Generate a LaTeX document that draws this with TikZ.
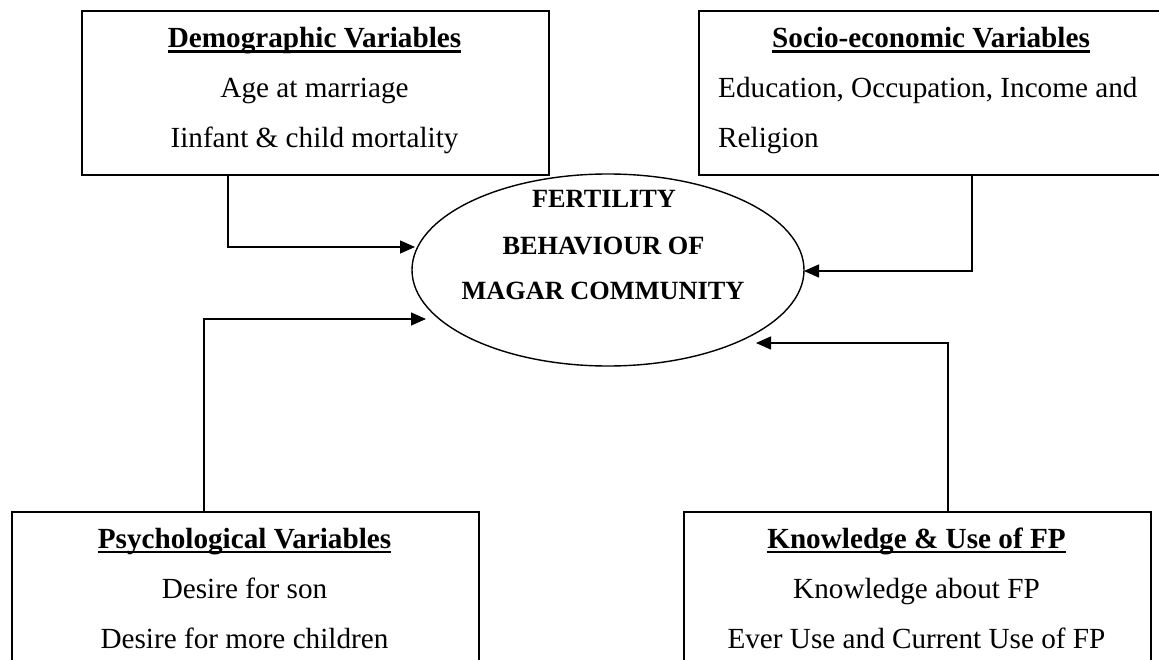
\documentclass[tikz,border=0pt]{standalone}
\usepackage{fontspec}
\setmainfont{Liberation Serif}
\usetikzlibrary{arrows.meta,shapes.geometric}
\newcommand\ulbf[1]{\sbox0{\bfseries #1}\rlap{\rule[-5pt]{\wd0}{2.5pt}}\usebox0}
\begin{document}
\begin{tikzpicture}[x=1pt,y=-1pt,
  box/.style={draw, line width=1.8pt, minimum width=467pt, minimum height=164pt, inner sep=0pt, anchor=north west},
  txt/.style={anchor=base, inner sep=0pt, font=\fontsize{29.2}{35}\selectfont},
  etxt/.style={anchor=base, inner sep=0pt, font=\fontsize{26.3}{32}\selectfont\bfseries},
  conn/.style={line width=1.4pt, -{Triangle[length=15pt,width=13pt]}}]
\useasboundingbox (0,0) rectangle (1159,660);
\clip (0,0) rectangle (1159,660);
\fill[white] (0,0) rectangle (1159,660);
% boxes
\node[box] (d) at (81,10) {};
\node[box] (s) at (698,10) {};
\node[box] (p) at (11,511) {};
\node[box] (k) at (683,511) {};
\node[draw, ellipse, line width=1.4pt, minimum width=392pt, minimum height=192pt, inner sep=0pt] (fert) at (608,270) {};
% texts
\node[txt] (d1) at (314.5,48) {\ulbf{Demographic Variables}};
\node[txt] (d2) at (314.5,98) {Age at marriage};
\node[txt] (d3) at (314.5,148) {Iinfant \& child mortality};
\node[txt] (s1) at (931,48) {\ulbf{Socio-economic Variables}};
\node[txt, anchor=base west] (s2) at (718,98) {Education, Occupation, Income and};
\node[txt, anchor=base west] (s3) at (718,148) {Religion};
\node[txt] (p1) at (244.5,548) {\ulbf{Psychological Variables}};
\node[txt] (p2) at (244.5,598) {Desire for son};
\node[txt] (p3) at (244.5,648) {Desire for more children};
\node[txt] (k1) at (916.5,548) {\ulbf{Knowledge \& Use of FP}};
\node[txt] (k2) at (916.5,598) {Knowledge about FP};
\node[txt] (k3) at (916.5,648) {Ever Use and Current Use of FP};
\node[etxt] (f1) at (604,208) {FERTILITY};
\node[etxt] (f2) at (603.5,255) {BEHAVIOUR OF};
\node[etxt] (f3) at (603,300) {MAGAR COMMUNITY};
% connectors
\draw[conn] ([xshift=-87.5pt]d.south) |- ([shift={(-193,-23)}]fert.center);
\draw[conn] ([xshift=39.5pt]s.south) |- ([shift={(196,1)}]fert.center);
\draw[conn] ([xshift=-41.5pt]p.north) |- ([shift={(-182,49)}]fert.center);
\draw[conn] ([xshift=30.5pt]k.north) |- ([shift={(148,73)}]fert.center);
\end{tikzpicture}
\end{document}
